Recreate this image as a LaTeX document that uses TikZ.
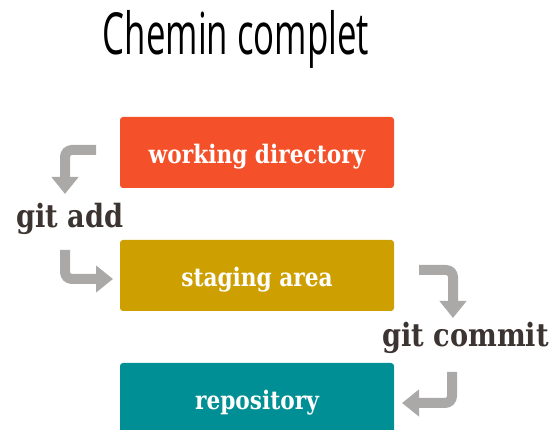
\documentclass[tikz,border=0pt]{standalone}
\usepackage{fontspec}
\newfontfamily\titlefont{Open Sans}[FakeStretch=0.6]
\newfontfamily\slabfont{DejaVu Serif}[FakeStretch=0.85]
\definecolor{workorange}{HTML}{F4502A}
\definecolor{stagegold}{HTML}{CD9F00}
\definecolor{repoteal}{HTML}{008F94}
\definecolor{arrowgrey}{HTML}{ABA9A7}
\definecolor{labeldark}{HTML}{3B3431}
\usetikzlibrary{arrows.meta,positioning}
\tikzset{
  area/.style={rounded corners=3pt, minimum width=274pt, minimum height=71pt,
    inner sep=0pt, text=white, font=\slabfont\bfseries\fontsize{25.5}{25.5}\selectfont,
    text height=23pt, text depth=1pt},
  gitcmd/.style={anchor=base west, text=labeldark, inner sep=0pt,
    font=\slabfont\bfseries\fontsize{32}{32}\selectfont},
  flow/.style={arrowgrey, line width=10pt, rounded corners=7pt,
    -{Triangle[width=26pt,length=17pt]}}
}

\begin{document}
\begin{tikzpicture}[x=1pt,y=-1pt]
    \useasboundingbox (0,0) rectangle (552,430);

    \node[anchor=base, inner sep=0pt, font=\titlefont\fontsize{58}{58}\selectfont]
      (title) at (236,55) {Chemin complet};

    % the three areas
    \node[area, fill=workorange] (wd)   at (257,152.5) {working directory};
    \node[area, fill=stagegold]  (sa)   at (257,275.5) {staging area};
    \node[area, fill=repoteal]   (repo) at (257,398.5) {repository};

    \node[gitcmd] (add)    at (16,228)  {git add};
    \node[gitcmd] (commit) at (382,347) {git commit};

    % bent arrows
    \coordinate (addin)     at (96,150);
    \coordinate (addmid)    at (65,194);
    \coordinate (addout)    at (65,250);
    \coordinate (addend)    at (113,279);
    \coordinate (commitin)  at (419,270);
    \coordinate (commitmid) at (453,318);
    \coordinate (commitout) at (452,372);
    \coordinate (commitend) at (402,403);

    \draw[flow] (addin) -| (addmid);
    \draw[flow] (addout) |- (addend);
    \draw[flow] (commitin) -| (commitmid);
    \draw[flow] (commitout) |- (commitend);
  \end{tikzpicture}
\end{document}
